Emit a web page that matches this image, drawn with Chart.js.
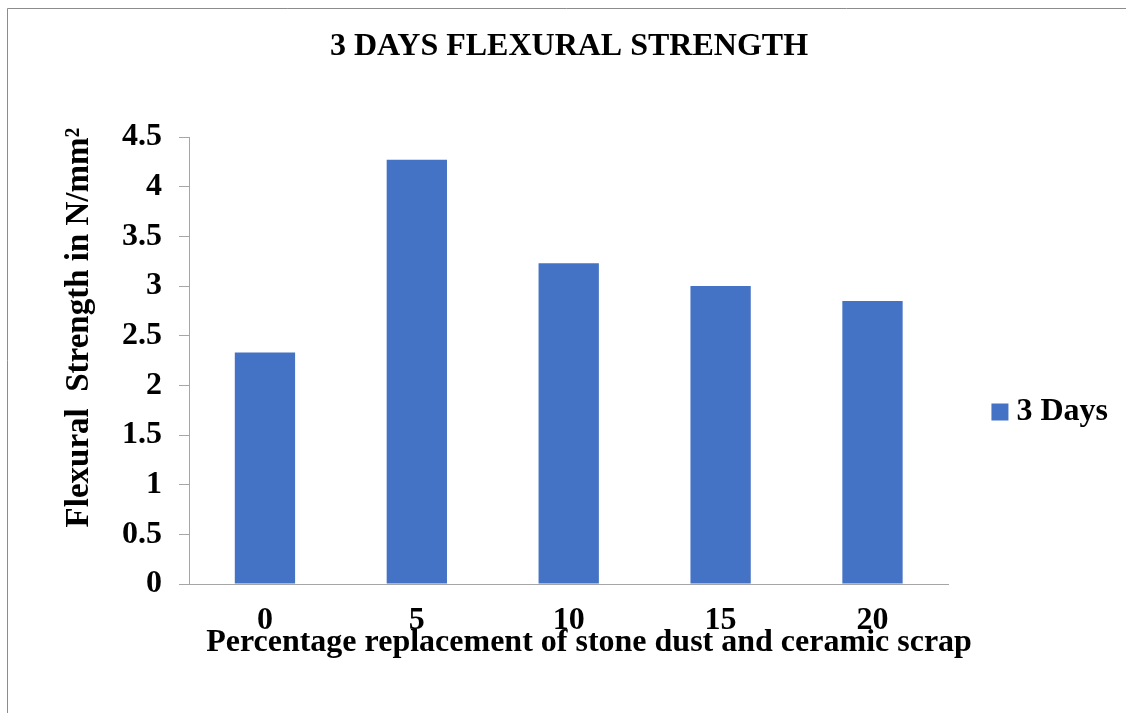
<!DOCTYPE html>
<html>
<head>
<meta charset="utf-8">
<script src="https://cdn.jsdelivr.net/npm/chart.js@4/dist/chart.umd.min.js"></script>
<style>
  html, body { margin: 0; padding: 0; background: #ffffff; }
  #wrap { width: 1126px; height: 713px; position: relative; }
</style>
</head>
<body>
<div id="wrap"><canvas id="chart" width="1126" height="713"></canvas></div>
<script>
// Replacement percentages and 3-day flexural strength (N/mm²)
const categories = ['0', '5', '10', '15', '20'];
const strength3Days = [2.33, 4.27, 3.23, 3.00, 2.85];
const seriesLabel = '3 Days';
const yMin = 0;
const yMax = 4.5;
const yStep = 0.5;

const chartTitle = '3 DAYS FLEXURAL STRENGTH';
const xTitle = 'Percentage replacement of stone dust and ceramic scrap';
const yTitle = 'Flexural  Strength in N/mm²';

const SERIF = "'Liberation Serif', 'Times New Roman', Times, serif";
const NB = '\u00a0';

// thin frame along the top and left edges of the figure
const framePlugin = {
  id: 'frame',
  beforeDraw(chart) {
    const ctx = chart.ctx;
    ctx.save();
    ctx.fillStyle = '#ffffff';
    ctx.fillRect(0, 0, chart.width, chart.height);
    ctx.strokeStyle = '#8c8c8c';
    ctx.lineWidth = 1;
    ctx.beginPath();
    ctx.moveTo(7.5, chart.height);
    ctx.lineTo(7.5, 8.5);
    ctx.lineTo(chart.width, 8.5);
    ctx.stroke();
    ctx.restore();
  }
};

new Chart(document.getElementById('chart'), {
  type: 'bar',
  data: {
    labels: categories,
    datasets: [{
      label: seriesLabel,
      data: strength3Days,
      backgroundColor: '#4472c4',
      borderWidth: 0,
      barPercentage: 0.397,
      categoryPercentage: 1.0
    }]
  },
  options: {
    responsive: false,
    animation: false,
    devicePixelRatio: 1,
    layout: { padding: { left: 20, right: 8, top: 0, bottom: 28 } },
    plugins: {
      title: {
        display: true,
        text: chartTitle,
        color: '#000000',
        font: { family: SERIF, size: 32, weight: 'bold' },
        padding: { top: 28, bottom: 70.6 }
      },
      // x-axis caption, laid out as a full-width block tucked under the category labels
      subtitle: {
        display: true,
        position: 'bottom',
        text: NB.repeat(5) + xTitle,
        color: '#000000',
        font: { family: SERIF, size: 32, weight: 'bold' },
        padding: { top: -18.7, bottom: 23.3 }
      },
      legend: {
        display: true,
        position: 'right',
        fullSize: false,
        align: 'center',
        title: { display: true, text: '', font: { size: 10 }, padding: { top: 91, bottom: 0 } },
        labels: {
          color: '#000000',
          font: { family: SERIF, size: 32, weight: 'bold' },
          usePointStyle: true,
          pointStyle: 'rect',
          boxWidth: 1,
          boxHeight: 17,
          padding: 51
        }
      },
      tooltip: { enabled: false }
    },
    scales: {
      x: {
        type: 'category',
        grid: { display: false, drawTicks: false },
        border: { display: true, color: '#a6a6a6', width: 1 },
        ticks: {
          color: '#000000',
          font: { family: SERIF, size: 32, weight: 'bold' },
          padding: 18,
          maxRotation: 0
        },
        afterFit(scale) { scale.height = 58; }
      },
      y: {
        min: yMin,
        max: yMax,
        grid: { drawOnChartArea: false, drawTicks: true, tickLength: 10, color: '#a6a6a6', lineWidth: 1 },
        border: { display: true, color: '#a6a6a6', width: 1 },
        ticks: {
          stepSize: yStep,
          color: '#000000',
          font: { family: SERIF, size: 32, weight: 'bold' },
          padding: 17,
          callback: (v) => String(Number(v.toFixed(1)))
        },
        title: {
          display: true,
          text: NB.repeat(8) + yTitle,
          color: '#000000',
          font: { family: SERIF, size: 33, weight: 'bold' },
          padding: { top: 39.7, bottom: 0 }
        },
        afterFit(scale) { scale.width = 169; }
      }
    }
  },
  plugins: [framePlugin]
});
</script>
</body>
</html>
